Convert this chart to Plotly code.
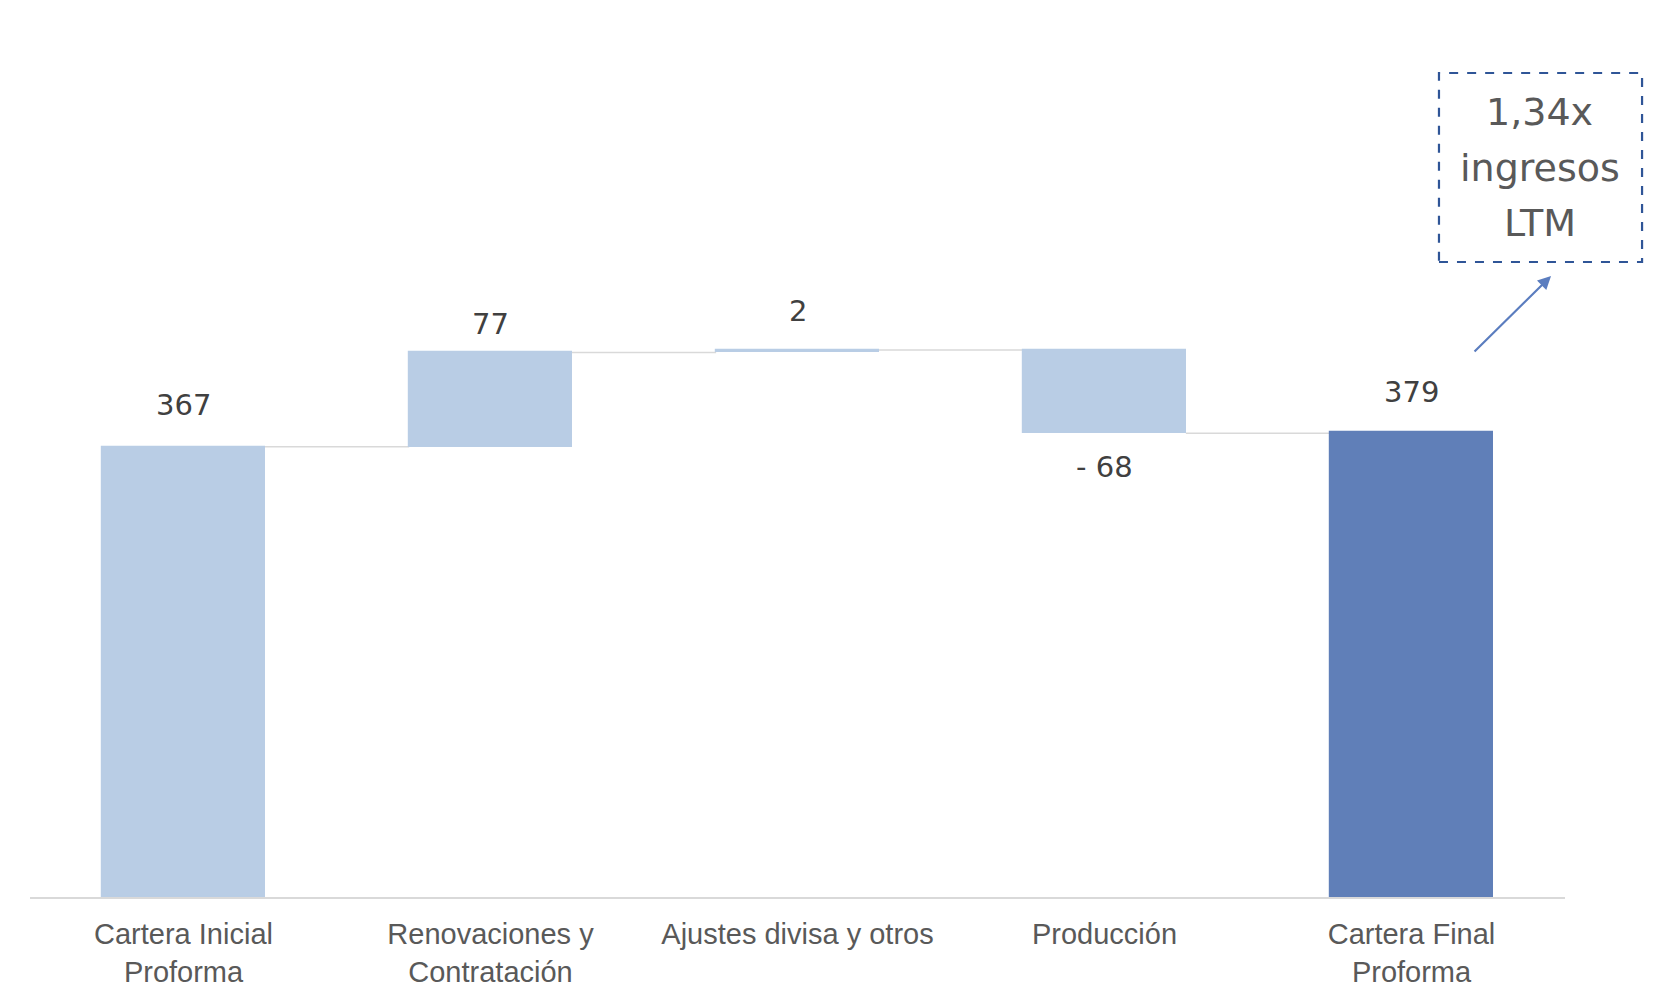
import plotly.graph_objects as go

categories = ["Cartera Inicial<br>Proforma", "Renovaciones y<br>Contratación",
              "Ajustes divisa y otros", "Producción", "Cartera Final<br>Proforma"]
measures = ["absolute", "relative", "relative", "relative", "absolute"]
values = [367, 77, 2, -68, 379]
label_shift = [23, 9, 20, -15, 21]
box_lines = ["1,34x", "ingresos", "LTM"]

LIGHT = "#B9CDE5"
DARK = "#607FB8"

# compute bases (waterfall logic)
bases, heights, levels = [], [], []
level = 0
for m, v in zip(measures, values):
    if m == "absolute":
        bases.append(0)
        heights.append(v)
        level = v
    else:
        bases.append(level)
        heights.append(v)
        level = level + v
    levels.append(level)

colors = [LIGHT, LIGHT, LIGHT, LIGHT, DARK]
xs = list(range(len(categories)))
W = 0.53

fig = go.Figure()
fig.add_trace(go.Bar(x=xs, y=heights, base=bases, width=W,
                     marker=dict(color=colors, line=dict(width=1.2, color=colors)),
                     hoverinfo="skip"))

shapes = []
for i in range(len(xs) - 1):
    shapes.append(dict(type="line", xref="x", yref="y",
                       x0=xs[i] + W / 2, x1=xs[i + 1] - W / 2,
                       y0=levels[i], y1=levels[i],
                       line=dict(color="#D9D9D9", width=1.5), layer="below"))

# dashed box (paper coords)
shapes.append(dict(type="rect", xref="paper", yref="paper",
                   x0=0.9179, x1=1.0502, y0=0.7307, y1=0.9482,
                   line=dict(color="#2F5597", width=2.2, dash="dash")))

annotations = []
for i, (m, v) in enumerate(zip(measures, values)):
    b = bases[i]
    top = max(b, b + v)
    bot = min(b, b + v)
    txt = f"- {abs(v)}" if v < 0 else f"{v}"
    if label_shift[i] >= 0:
        annotations.append(dict(x=xs[i], y=top, xref="x", yref="y", text=txt,
                                showarrow=False, yanchor="bottom", yshift=label_shift[i],
                                font=dict(family="DejaVu Sans", size=29, color="#404040")))
    else:
        annotations.append(dict(x=xs[i], y=bot, xref="x", yref="y", text=txt,
                                showarrow=False, yanchor="top", yshift=label_shift[i],
                                font=dict(family="DejaVu Sans", size=29, color="#404040")))

line_y = [0.9028, 0.8392, 0.7757]
for t, yy in zip(box_lines, line_y):
    annotations.append(dict(x=0.9837, y=yy, xref="paper", yref="paper", text=t,
                            showarrow=False, xanchor="center", yanchor="middle",
                            font=dict(family="DejaVu Sans", size=38, color="#595959")))

# arrow
annotations.append(dict(x=0.9909, y=0.7146, xref="paper", yref="paper", text="",
                        showarrow=True, ax=-78, ay=77, arrowhead=2, arrowsize=1.2,
                        arrowwidth=2.2, arrowcolor="#5B7DBF"))

fig.update_layout(
    width=1664, height=988,
    margin=dict(l=22, r=107, t=20, b=99),
    plot_bgcolor="white", paper_bgcolor="white",
    showlegend=False, bargap=0,
    shapes=shapes, annotations=annotations,
    xaxis=dict(tickmode="array", tickvals=xs, ticktext=categories,
               range=[-0.5, 4.5], showgrid=False, zeroline=False,
               showline=True, linecolor="#D9D9D9", linewidth=2,
               ticks="", ticklabelstandoff=10, automargin=False,
               tickfont=dict(family="Liberation Sans", size=29, color="#595959")),
    yaxis=dict(range=[0, 708.5], visible=False, showgrid=False, zeroline=False,
               automargin=False),
)

fig.write_html("out.html")
